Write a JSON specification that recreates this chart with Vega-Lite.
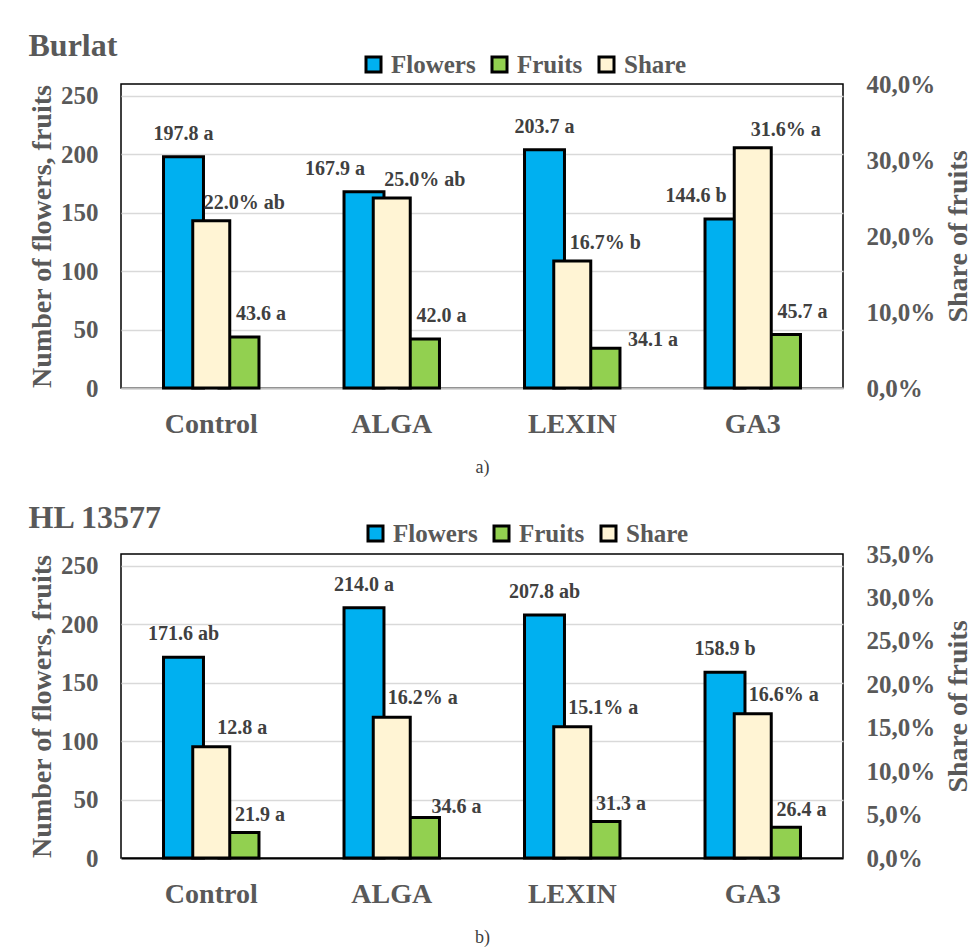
{
"$schema":"https://vega.github.io/schema/vega-lite/v6.json",
"padding":{"left":27,"top":29,"right":0,"bottom":0},
"background":"white",
"datasets":{
"burlat":[
{"t":"Control","s":"Flowers","v":197.8,"l":"197.8 a"},
{"t":"Control","s":"Fruits","v":43.6,"l":"43.6 a"},
{"t":"Control","s":"Share","v":0.220,"l":"22.0% ab"},
{"t":"ALGA","s":"Flowers","v":167.9,"l":"167.9 a"},
{"t":"ALGA","s":"Fruits","v":42.0,"l":"42.0 a"},
{"t":"ALGA","s":"Share","v":0.250,"l":"25.0% ab"},
{"t":"LEXIN","s":"Flowers","v":203.7,"l":"203.7 a"},
{"t":"LEXIN","s":"Fruits","v":34.1,"l":"34.1 a"},
{"t":"LEXIN","s":"Share","v":0.167,"l":"16.7% b"},
{"t":"GA3","s":"Flowers","v":144.6,"l":"144.6 b"},
{"t":"GA3","s":"Fruits","v":45.7,"l":"45.7 a"},
{"t":"GA3","s":"Share","v":0.316,"l":"31.6% a"}
],
"hl":[
{"t":"Control","s":"Flowers","v":171.6,"l":"171.6 ab"},
{"t":"Control","s":"Fruits","v":21.9,"l":"21.9 a"},
{"t":"Control","s":"Share","v":0.128,"l":"12.8 a"},
{"t":"ALGA","s":"Flowers","v":214.0,"l":"214.0 a"},
{"t":"ALGA","s":"Fruits","v":34.6,"l":"34.6 a"},
{"t":"ALGA","s":"Share","v":0.162,"l":"16.2% a"},
{"t":"LEXIN","s":"Flowers","v":207.8,"l":"207.8 ab"},
{"t":"LEXIN","s":"Fruits","v":31.3,"l":"31.3 a"},
{"t":"LEXIN","s":"Share","v":0.151,"l":"15.1% a"},
{"t":"GA3","s":"Flowers","v":158.9,"l":"158.9 b"},
{"t":"GA3","s":"Fruits","v":26.4,"l":"26.4 a"},
{"t":"GA3","s":"Share","v":0.166,"l":"16.6% a"}
]
},
"vconcat":[
{
"title":{"text":"Burlat","anchor":"start","frame":"bounds","fontSize":32,"fontWeight":"bold","color":"#595959","font":"Liberation Serif","offset":-11},
"width":722,"height":304,
"data":{"name":"burlat"},
"layer":[
{"layer":[
{"transform":[{"filter":"datum.s !== 'Share'"}],
"mark":{"type":"bar","stroke":"#000","strokeWidth":3},
"encoding":{
"x":{"field":"t","type":"nominal","sort":["Control","ALGA","LEXIN","GA3"],"scale":{"paddingInner":0,"paddingOuter":0},"axis":{"title":"a)","labelAngle":0,"domainColor":"#BFBFBF"}},
"xOffset":{"field":"s","type":"nominal","scale":{"domain":["Flowers","Fruits"],"paddingInner":0.28,"paddingOuter":0.766}},
"y":{"field":"v","type":"quantitative","scale":{"domain":[0,250]},"axis":{"orient":"left","values":[0,50,100,150,200,250],"grid":true,"title":"Number of  flowers, fruits"}},
"color":{"field":"s","type":"nominal","scale":{"domain":["Flowers","Fruits","Share"],"range":["#00B0F0","#92D050","#FFF4D4"]},"legend":{"title":null,"orient":"none","legendX":240,"legendY":-32,"direction":"horizontal"}}
}},
{"transform":[{"filter":"datum.s === 'Flowers' && (datum.t === 'Control' || datum.t === 'LEXIN')"}],
"mark":{"type":"text","dx":0,"dy":-23,"fontSize":20,"fontWeight":"bold","font":"Liberation Serif","color":"#404040"},
"encoding":{
"x":{"field":"t","type":"nominal","sort":["Control","ALGA","LEXIN","GA3"],"axis":{"title":"a)"}},
"xOffset":{"field":"s","type":"nominal"},
"y":{"field":"v","type":"quantitative","axis":{"orient":"left","title":"Number of  flowers, fruits"}},
"text":{"field":"l"}}},
{"transform":[{"filter":"datum.s === 'Flowers' && (datum.t === 'ALGA' || datum.t === 'GA3')"}],
"mark":{"type":"text","dx":-29,"dy":-23,"fontSize":20,"fontWeight":"bold","font":"Liberation Serif","color":"#404040"},
"encoding":{
"x":{"field":"t","type":"nominal","sort":["Control","ALGA","LEXIN","GA3"],"axis":{"title":"a)"}},
"xOffset":{"field":"s","type":"nominal"},
"y":{"field":"v","type":"quantitative","axis":{"orient":"left","title":"Number of  flowers, fruits"}},
"text":{"field":"l"}}},
{"transform":[{"filter":"datum.s === 'Fruits' && datum.t !== 'LEXIN'"}],
"mark":{"type":"text","dx":22,"dy":-23,"fontSize":20,"fontWeight":"bold","font":"Liberation Serif","color":"#404040"},
"encoding":{
"x":{"field":"t","type":"nominal","sort":["Control","ALGA","LEXIN","GA3"],"axis":{"title":"a)"}},
"xOffset":{"field":"s","type":"nominal"},
"y":{"field":"v","type":"quantitative","axis":{"orient":"left","title":"Number of  flowers, fruits"}},
"text":{"field":"l"}}},
{"transform":[{"filter":"datum.s === 'Fruits' && datum.t === 'LEXIN'"}],
"mark":{"type":"text","dx":53,"dy":-8,"fontSize":20,"fontWeight":"bold","font":"Liberation Serif","color":"#404040"},
"encoding":{
"x":{"field":"t","type":"nominal","sort":["Control","ALGA","LEXIN","GA3"],"axis":{"title":"a)"}},
"xOffset":{"field":"s","type":"nominal"},
"y":{"field":"v","type":"quantitative","axis":{"orient":"left","title":"Number of  flowers, fruits"}},
"text":{"field":"l"}}}
]},
{"layer":[
{"transform":[{"filter":"datum.s === 'Share'"}],
"mark":{"type":"bar","fill":"#FFF4D4","stroke":"#000","strokeWidth":3,"width":{"band":0.205}},
"encoding":{
"x":{"field":"t","type":"nominal","sort":["Control","ALGA","LEXIN","GA3"],"axis":{"title":"a)"}},
"y":{"field":"v","type":"quantitative","scale":{"domain":[0,0.4]},"axis":{"orient":"right","values":[0,0.1,0.2,0.3,0.4],"grid":false,"labelExpr":"replace(format(datum.value,'.1%'),'.',',')","title":"Share of  fruits","titleAngle":270,"titleBaseline":"top","titlePadding":10}}
}},
{"transform":[{"filter":"datum.s === 'Share'"}],
"mark":{"type":"text","dx":33,"dy":-18,"fontSize":20,"fontWeight":"bold","font":"Liberation Serif","color":"#404040"},
"encoding":{
"x":{"field":"t","type":"nominal","sort":["Control","ALGA","LEXIN","GA3"],"axis":{"title":"a)"}},
"y":{"field":"v","type":"quantitative","axis":{"orient":"right","title":"Share of  fruits","titleAngle":270,"titleBaseline":"top","grid":false}},
"text":{"field":"l"}}}
]}
],
"resolve":{"scale":{"y":"independent"}}
},
{
"title":{"text":"HL 13577","anchor":"start","frame":"bounds","fontSize":32,"fontWeight":"bold","color":"#595959","font":"Liberation Serif","offset":-14},
"width":722,"height":304,
"data":{"name":"hl"},
"layer":[
{"layer":[
{"transform":[{"filter":"datum.s !== 'Share'"}],
"mark":{"type":"bar","stroke":"#000","strokeWidth":3},
"encoding":{
"x":{"field":"t","type":"nominal","sort":["Control","ALGA","LEXIN","GA3"],"scale":{"paddingInner":0,"paddingOuter":0},"axis":{"title":"b)","labelAngle":0,"domainColor":"#000"}},
"xOffset":{"field":"s","type":"nominal","scale":{"domain":["Flowers","Fruits"],"paddingInner":0.28,"paddingOuter":0.766}},
"y":{"field":"v","type":"quantitative","scale":{"domain":[0,250]},"axis":{"orient":"left","values":[0,50,100,150,200,250],"grid":true,"title":"Number of  flowers, fruits"}},
"color":{"field":"s","type":"nominal","scale":{"domain":["Flowers","Fruits","Share"],"range":["#00B0F0","#92D050","#FFF4D4"]},"legend":{"title":null,"orient":"none","legendX":242,"legendY":-33,"direction":"horizontal"}}
}},
{"transform":[{"filter":"datum.s === 'Flowers'"}],
"mark":{"type":"text","dx":0,"dy":-23,"fontSize":20,"fontWeight":"bold","font":"Liberation Serif","color":"#404040"},
"encoding":{
"x":{"field":"t","type":"nominal","sort":["Control","ALGA","LEXIN","GA3"],"axis":{"title":"b)"}},
"xOffset":{"field":"s","type":"nominal"},
"y":{"field":"v","type":"quantitative","axis":{"orient":"left","title":"Number of  flowers, fruits"}},
"text":{"field":"l"}}},
{"transform":[{"filter":"datum.s === 'Fruits' && datum.t !== 'ALGA'"}],
"mark":{"type":"text","dx":21,"dy":-17,"fontSize":20,"fontWeight":"bold","font":"Liberation Serif","color":"#404040"},
"encoding":{
"x":{"field":"t","type":"nominal","sort":["Control","ALGA","LEXIN","GA3"],"axis":{"title":"b)"}},
"xOffset":{"field":"s","type":"nominal"},
"y":{"field":"v","type":"quantitative","axis":{"orient":"left","title":"Number of  flowers, fruits"}},
"text":{"field":"l"}}},
{"transform":[{"filter":"datum.s === 'Fruits' && datum.t === 'ALGA'"}],
"mark":{"type":"text","dx":37,"dy":-11,"fontSize":20,"fontWeight":"bold","font":"Liberation Serif","color":"#404040"},
"encoding":{
"x":{"field":"t","type":"nominal","sort":["Control","ALGA","LEXIN","GA3"],"axis":{"title":"b)"}},
"xOffset":{"field":"s","type":"nominal"},
"y":{"field":"v","type":"quantitative","axis":{"orient":"left","title":"Number of  flowers, fruits"}},
"text":{"field":"l"}}}
]},
{"layer":[
{"transform":[{"filter":"datum.s === 'Share'"}],
"mark":{"type":"bar","fill":"#FFF4D4","stroke":"#000","strokeWidth":3,"width":{"band":0.205}},
"encoding":{
"x":{"field":"t","type":"nominal","sort":["Control","ALGA","LEXIN","GA3"],"axis":{"title":"b)"}},
"y":{"field":"v","type":"quantitative","scale":{"domain":[0,0.35]},"axis":{"orient":"right","values":[0,0.05,0.1,0.15,0.2,0.25,0.3,0.35],"grid":false,"labelExpr":"replace(format(datum.value,'.1%'),'.',',')","title":"Share of  fruits","titleAngle":270,"titleBaseline":"top","titlePadding":10}}
}},
{"transform":[{"filter":"datum.s === 'Share'"}],
"mark":{"type":"text","dx":31,"dy":-19,"fontSize":20,"fontWeight":"bold","font":"Liberation Serif","color":"#404040"},
"encoding":{
"x":{"field":"t","type":"nominal","sort":["Control","ALGA","LEXIN","GA3"],"axis":{"title":"b)"}},
"y":{"field":"v","type":"quantitative","axis":{"orient":"right","title":"Share of  fruits","titleAngle":270,"titleBaseline":"top","grid":false}},
"text":{"field":"l"}}}
]}
],
"resolve":{"scale":{"y":"independent"}}
}
],
"spacing":24,
"resolve":{"scale":{"y":"independent","x":"independent","color":"independent","xOffset":"independent"},"legend":{"color":"independent"}},
"config":{
"font":"Liberation Serif",
"view":{"stroke":"#000","strokeWidth":1.5},
"axisX":{"ticks":false,"grid":false,"domainWidth":2,"labelFontSize":28,"labelFontWeight":"bold","labelColor":"#595959","labelPadding":22,"titleFontSize":18,"titleFontWeight":"normal","titleColor":"#404040","titlePadding":20},
"axisY":{"domain":false,"ticks":false,"gridColor":"#D9D9D9","gridWidth":1.5,"labelFontSize":25,"labelFontWeight":"bold","labelColor":"#595959","labelPadding":23,"titleFontSize":28,"titleFontWeight":"bold","titleColor":"#595959","titlePadding":4},
"legend":{"symbolType":"square","symbolSize":225,"symbolStrokeColor":"#000","symbolStrokeWidth":3,"labelFontSize":25,"labelFontWeight":"bold","labelColor":"#595959","labelFont":"Liberation Serif","columnPadding":10,"labelOffset":5,"symbolOpacity":1}
}
}
